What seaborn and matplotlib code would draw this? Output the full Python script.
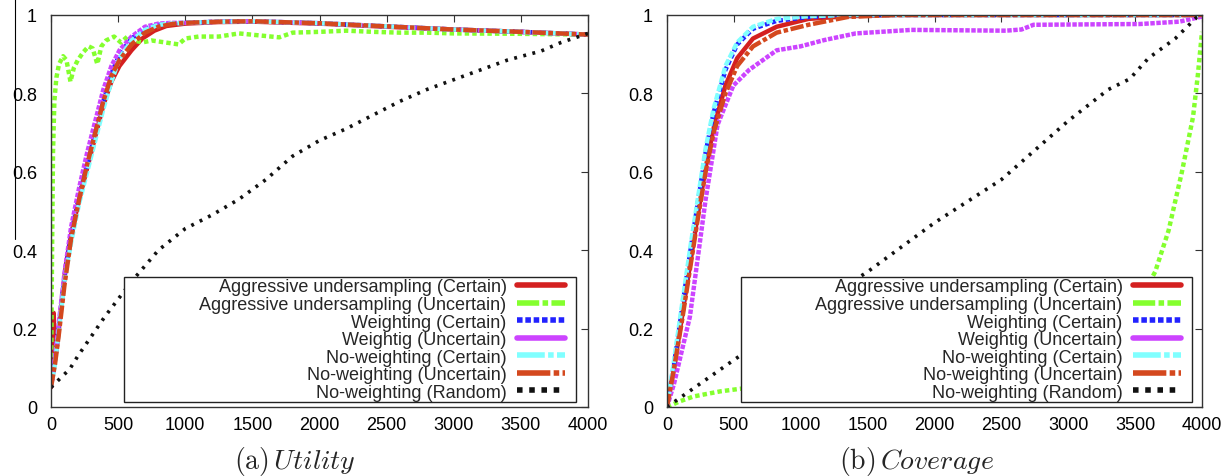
import matplotlib
matplotlib.use("Agg")
import matplotlib.pyplot as plt
from matplotlib.patches import Rectangle
from matplotlib.lines import Line2D
import seaborn as sns

# ---- data ----
labels = ["Aggressive undersampling (Certain)", "Aggressive undersampling (Uncertain)",
          "Weighting (Certain)", "Weightig (Uncertain)", "No-weighting (Certain)",
          "No-weighting (Uncertain)", "No-weighting (Random)"]
x_ticks = [0, 500, 1000, 1500, 2000, 2500, 3000, 3500, 4000]
y_ticks = [0, 0.2, 0.4, 0.6, 0.8, 1]
y_ticklabels = ["0", "0.2", "0.4", "0.6", "0.8", "1"]

# (a) Utility
ut_red_x = [0, 10, 20, 30, 50, 80, 110, 150, 210, 270, 330, 390, 450, 510, 600, 680, 770, 860,
            1000, 1250, 1500, 2000, 2500, 3000, 3500, 4000]
ut_red_y = [0.05, 0.10, 0.24, 0.12, 0.17, 0.27, 0.36, 0.44, 0.53, 0.61, 0.69, 0.77, 0.83, 0.87,
            0.91, 0.94, 0.96, 0.972, 0.978, 0.982, 0.983, 0.978, 0.970, 0.963, 0.957, 0.950]
ut_green_x = [0, 8, 15, 25, 40, 60, 90, 115, 145, 170, 200, 240, 280, 310, 345, 375, 410, 470,
              520, 570, 620, 680, 750, 850, 950, 1000, 1100, 1250, 1400, 1550, 1700, 1800, 2000,
              2200, 2400, 2600, 2800, 3000, 3500, 4000]
ut_green_y = [0.05, 0.40, 0.65, 0.78, 0.84, 0.875, 0.895, 0.885, 0.83, 0.865, 0.885, 0.905, 0.92,
              0.915, 0.875, 0.92, 0.935, 0.945, 0.93, 0.945, 0.935, 0.93, 0.935, 0.93, 0.925, 0.94,
              0.945, 0.945, 0.953, 0.948, 0.943, 0.955, 0.957, 0.96, 0.957, 0.955, 0.955, 0.953,
              0.952, 0.950]
ut_x = [0, 30, 60, 100, 150, 210, 270, 330, 390, 450, 510, 600, 700, 800, 900, 1000, 1250, 1500,
        2000, 2500, 3000, 3500, 4000]
ut_blue_y = [0.05, 0.12, 0.21, 0.33, 0.44, 0.54, 0.62, 0.70, 0.78, 0.85, 0.90, 0.94, 0.965, 0.975,
             0.978, 0.980, 0.983, 0.984, 0.979, 0.971, 0.963, 0.957, 0.950]
ut_magenta_y = [0.05, 0.13, 0.22, 0.34, 0.46, 0.56, 0.65, 0.73, 0.81, 0.87, 0.91, 0.945, 0.97,
                0.978, 0.980, 0.980, 0.983, 0.984, 0.979, 0.971, 0.963, 0.957, 0.950]
ut_cyan_y = [0.05, 0.11, 0.20, 0.32, 0.42, 0.52, 0.60, 0.68, 0.76, 0.83, 0.89, 0.935, 0.962,
             0.975, 0.978, 0.980, 0.983, 0.984, 0.979, 0.971, 0.963, 0.957, 0.950]
ut_orange_y = [0.05, 0.11, 0.19, 0.31, 0.43, 0.53, 0.62, 0.70, 0.78, 0.845, 0.885, 0.925, 0.955,
               0.970, 0.977, 0.980, 0.983, 0.984, 0.979, 0.971, 0.963, 0.957, 0.950]
ut_black_x = [0, 140, 200, 400, 600, 800, 1000, 1200, 1400, 1600, 1800, 2000, 2200, 2400, 2600,
              2800, 3000, 3200, 3400, 3650, 3800, 4000]
ut_black_y = [0.05, 0.097, 0.13, 0.23, 0.32, 0.40, 0.455, 0.49, 0.53, 0.58, 0.64, 0.68, 0.71,
              0.745, 0.78, 0.81, 0.835, 0.86, 0.885, 0.908, 0.93, 0.953]

# (b) Coverage
cv_x = [0, 53, 112, 171, 230, 289, 348, 437, 525, 643, 820, 1057, 1352, 1700, 4000]
cv_red_y = [0, 0.10, 0.23, 0.36, 0.49, 0.61, 0.71, 0.82, 0.89, 0.94, 0.97, 0.99, 0.997, 1.0, 1.0]
cv_blue_y = [0, 0.11, 0.25, 0.39, 0.52, 0.65, 0.75, 0.86, 0.925, 0.965, 0.985, 0.995, 1.0, 1.0, 1.0]
cv_cyan_y = [0, 0.12, 0.26, 0.40, 0.53, 0.66, 0.76, 0.87, 0.93, 0.97, 0.99, 0.997, 1.0, 1.0, 1.0]
cv_orange_y = [0, 0.10, 0.22, 0.35, 0.48, 0.60, 0.70, 0.80, 0.87, 0.92, 0.955, 0.975, 0.995, 1.0, 1.0]
cv_green_x = [0, 100, 200, 400, 560, 1000, 1500, 2000, 2500, 3000, 3300, 3500, 3650, 3750, 3850,
              3933, 3970, 4000]
cv_green_y = [0, 0.015, 0.027, 0.04, 0.047, 0.06, 0.075, 0.095, 0.12, 0.16, 0.20, 0.25, 0.345,
              0.45, 0.60, 0.74, 0.85, 0.957]
cv_magenta_x = [0, 53, 171, 289, 378, 496, 614, 820, 998, 1175, 1411, 1826, 2533, 2650, 2740,
                3124, 3536, 3831, 4000]
cv_magenta_y = [0, 0.06, 0.23, 0.53, 0.72, 0.82, 0.86, 0.91, 0.92, 0.936, 0.953, 0.962, 0.96,
                0.963, 0.975, 0.976, 0.977, 0.983, 0.996]
cv_black_x = [0, 500, 1000, 1500, 2000, 2500, 2700, 3000, 3300, 3460, 3600, 3800, 3963, 4000]
cv_black_y = [0, 0.12, 0.235, 0.345, 0.47, 0.58, 0.64, 0.73, 0.81, 0.837, 0.89, 0.94, 0.995, 1.0]

colors = ["#d42020", "#84ff2e", "#2222ff", "#cc44ff", "#80ffff", "#d4481e", "#111111"]
# dotted textures on the curves, gnuplot-like dash patterns in the key
curve_styles = ["-", (0, (1, 0.7)), (0, (1, 0.6)), (0, (1, 0.35)), (0, (1.5, 0.5)),
                (0, (3, 0.6, 1, 0.6)), (0, (0.8, 1.8))]
key_styles = ["-", (0, (4, 0.6, 1, 0.6)), (0, (1, 0.5)), "-", (0, (5, 0.6, 1, 0.6)),
              (0, (6, 0.6, 1, 0.6, 1, 0.6)), (0, (1, 1.2))]

utility = [(ut_red_x, ut_red_y), (ut_green_x, ut_green_y), (ut_x, ut_blue_y), (ut_x, ut_magenta_y),
           (ut_x, ut_cyan_y), (ut_x, ut_orange_y), (ut_black_x, ut_black_y)]
coverage = [(cv_x, cv_red_y), (cv_green_x, cv_green_y), (cv_x, cv_blue_y),
            (cv_magenta_x, cv_magenta_y), (cv_x, cv_cyan_y), (cv_x, cv_orange_y),
            (cv_black_x, cv_black_y)]

sns.set_theme(style="white")
plt.rcParams['font.family'] = ['Liberation Sans', 'DejaVu Sans']
plt.rcParams['mathtext.fontset'] = 'cm'

fig = plt.figure(figsize=(12.32, 4.77), dpi=100)
ax1 = fig.add_axes([51 / 1232, 69 / 477, 537 / 1232, 392 / 477])
ax2 = fig.add_axes([667 / 1232, 69 / 477, 535 / 1232, 392 / 477])


def draw_panel(ax, series, box_left, box_right):
    for (xs, ys), lab, c, ls in zip(series, labels, colors, curve_styles):
        lw = 2.6 if lab.endswith("(Random)") else 3.2
        sns.lineplot(x=xs, y=ys, ax=ax, color=c, linewidth=lw, linestyle=ls,
                     label=lab, errorbar=None, sort=False)
    ax.set_xlim(0, 4000)
    ax.set_ylim(0, 1)
    ax.set_xticks(x_ticks)
    ax.set_yticks(y_ticks, y_ticklabels)
    ax.set_xlabel("")
    ax.set_ylabel("")
    ax.tick_params(direction="in", length=5, width=0.8, top=True, right=True,
                   labelsize=13, colors="#333333", labelcolor="black")
    ax.tick_params(axis="y", pad=10)
    ax.tick_params(axis="x", pad=6.5)
    for sp in ax.spines.values():
        sp.set_color("#333333")
        sp.set_linewidth(1.0)
    # gnuplot-style key box
    ax.add_patch(Rectangle((box_left, 0.013), box_right - box_left, 0.319,
                           transform=ax.transAxes, facecolor="white",
                           edgecolor="#222222", lw=1.0, zorder=5))
    leg = ax.legend(loc="lower right", bbox_to_anchor=(box_right - 0.02, 0.016),
                    frameon=False, markerfirst=False, fontsize=13, borderpad=0,
                    borderaxespad=0, handlelength=2.7, handletextpad=0.55,
                    labelspacing=0.03)
    leg.set_zorder(6)
    for col in leg._legend_box.get_children()[1].get_children():
        col.align = "right"
    for line, ks in zip(leg.get_lines(), key_styles):
        line.set_linewidth(4)
        line.set_linestyle(ks)


draw_panel(ax1, utility, (124 - 51) / 537, (576 - 51) / 537)
draw_panel(ax2, coverage, (741 - 667) / 535, (1192 - 667) / 535)

fig.text(295 / 1232, 1 - 462 / 477, r"$\mathrm{(a)}\,\mathit{Utility}$", fontsize=20,
         ha="center", va="center")
fig.text(917 / 1232, 1 - 462 / 477, r"$\mathrm{(b)}\,\mathit{Coverage}$", fontsize=20,
         ha="center", va="center")
# thin stray rule at the far left of the scan
fig.add_artist(Line2D([15 / 1232, 15 / 1232], [1, 1 - 240 / 477], color="black", lw=0.8))

fig.savefig("out.png", dpi=100)
